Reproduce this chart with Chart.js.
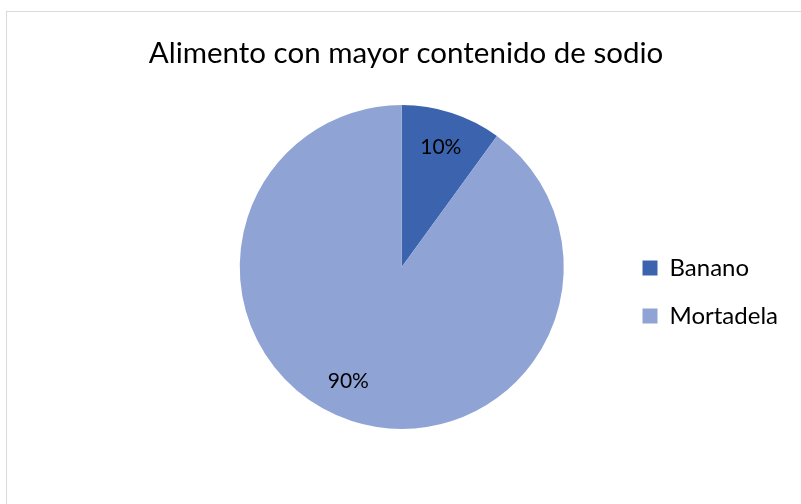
<!DOCTYPE html>
<html>
<head>
<meta charset="utf-8">
<script src="https://cdn.jsdelivr.net/npm/chart.js@4/dist/chart.umd.min.js"></script>
<style>
  html, body { margin: 0; padding: 0; background: #fff; overflow: hidden; }
  #frame {
    position: absolute; left: 6px; top: 11px; width: 800px; height: 498px;
    border-top: 1px solid #d9d9d9; border-left: 1px solid #d9d9d9;
    box-sizing: border-box;
  }
  #box { position: absolute; left: 7px; top: 12px; width: 794px; height: 492px; }
</style>
</head>
<body>
<div id="frame"></div>
<div id="box"><canvas id="chart"></canvas></div>
<script>
const titleText = 'Alimento con mayor contenido de sodio';
const categories = ['Banano', 'Mortadela'];
const shares = [10, 90];
const sliceColors = ['#3c64ae', '#8fa3d5'];

// Percentage labels drawn inside each slice along its bisector
const sliceLabels = {
  id: 'sliceLabels',
  afterDatasetsDraw(chart, args, opts) {
    const ctx = chart.ctx;
    const meta = chart.getDatasetMeta(0);
    const data = chart.data.datasets[0].data;
    ctx.save();
    ctx.font = opts.font;
    ctx.fillStyle = opts.color;
    ctx.textAlign = 'center';
    ctx.textBaseline = 'middle';
    meta.data.forEach((arc, i) => {
      const p = arc.getProps(['x', 'y', 'startAngle', 'endAngle', 'outerRadius'], true);
      const shift = (opts.angleShift[i] || 0) * Math.PI / 180;
      const mid = (p.startAngle + p.endAngle) / 2 + shift;
      const r = p.outerRadius * opts.radius;
      ctx.fillText(data[i] + '%', p.x + Math.cos(mid) * r, p.y + Math.sin(mid) * r);
    });
    ctx.restore();
  }
};

new Chart(document.getElementById('chart'), {
  type: 'pie',
  data: {
    labels: categories,
    datasets: [{
      data: shares,
      backgroundColor: sliceColors,
      borderWidth: 0
    }]
  },
  plugins: [sliceLabels],
  options: {
    responsive: true,
    maintainAspectRatio: false,
    animation: false,
    layout: { padding: { left: 17, right: 13, top: 0, bottom: 75 } },
    plugins: {
      title: {
        display: true,
        text: titleText,
        color: '#000',
        font: { family: 'Lato', size: 29.5, weight: 'normal' },
        padding: { top: 23.5, bottom: 34.1 }
      },
      // empty left-hand block that balances the legend so the pie sits under the title
      subtitle: {
        display: true,
        text: '',
        position: 'left',
        padding: { top: 73.3, bottom: 73.3 }
      },
      legend: {
        position: 'right',
        align: 'center',
        fullSize: false,
        title: { display: true, text: '', padding: { top: 17.8, bottom: 17.8 } },
        labels: {
          color: '#000',
          font: { family: 'Lato', size: 24 },
          boxWidth: 15,
          boxHeight: 15,
          padding: 24
        }
      },
      tooltip: { enabled: false },
      sliceLabels: {
        font: '21px Lato',
        color: '#000',
        radius: 0.78,
        angleShift: [0, 7]
      }
    }
  }
});
</script>
</body>
</html>
